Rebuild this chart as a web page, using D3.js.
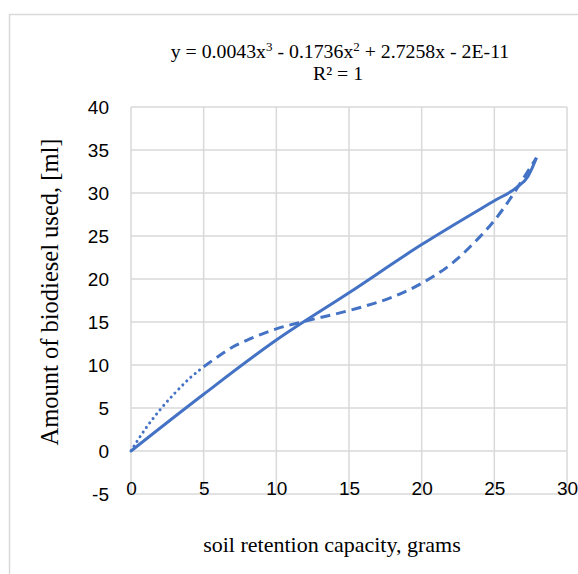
<!DOCTYPE html>
<html lang="en">
    <head>
        <meta charset="utf-8">
        <title>biodiesel vs soil retention</title>
        <script src="https://d3js.org/d3.v7.min.js"></script>
        <style type="text/css">
          body { margin: 0; background: #fff; }
          svg { width: 578px; height: 574px; display: block; }

          .tick_lbl {
            font-family: "Liberation Sans", sans-serif;
            font-size: 19px;
            fill: #000;
          }

          .serif {
            font-family: "Liberation Serif", "Times New Roman", serif;
            fill: #000;
          }
        </style>
    </head>
    <body>
        <svg></svg>
        <script type="text/javascript">

        // tick labels
        const xTicks = [0, 5, 10, 15, 20, 25, 30];
        const yTicks = [-5, 0, 5, 10, 15, 20, 25, 30, 35, 40];

        // solid series
        const solidX = [0, 5, 10, 15, 20, 25, 26.5, 27.3, 27.6, 27.9];
        const solidY = [0, 6.6, 12.9, 18.4, 24.0, 29.1, 30.6, 31.9, 32.9, 34.1];

        // fitted curve, dotted part
        const dotX = [0, 1, 2, 3, 4, 5];
        const dotY = [0, 2.6, 4.8, 6.7, 8.4, 9.8];

        // fitted curve, dashed part
        const dashX = [5, 6, 7, 8, 9, 10, 12, 14, 16, 18, 20, 22, 24, 25, 26, 27, 27.9];
        const dashY = [9.8, 11.0, 12.1, 12.9, 13.6, 14.2, 15.1, 15.9, 16.8, 17.9, 19.5, 21.7, 24.9, 26.8, 29.1, 31.7, 34.1];

        const blue = "#4472C4";
        const grid = "#d9d9d9";

        const svg = d3.select("svg");

        //chart border
        svg.append("rect")
           .attr("x", 9.5)
           .attr("y", 14.5)
           .attr("width", 620)
           .attr("height", 620)
           .attr("fill", "#fff")
           .attr("stroke", grid)
           .attr("stroke-width", 1.5);

        const x = d3.scaleLinear().domain([0, 30]).range([131, 567]);
        const y = d3.scaleLinear().domain([-5, 40]).range([494, 107]);

        //gridlines
        svg.append("g")
           .selectAll("line")
           .data(xTicks)
           .enter()
           .append("line")
           .attr("x1", d => x(d)).attr("x2", d => x(d))
           .attr("y1", y(-5)).attr("y2", y(40))
           .attr("stroke", grid)
           .attr("stroke-width", 1.5);

        svg.append("g")
           .selectAll("line")
           .data(yTicks)
           .enter()
           .append("line")
           .attr("x1", x(0)).attr("x2", x(30))
           .attr("y1", d => y(d)).attr("y2", d => y(d))
           .attr("stroke", grid)
           .attr("stroke-width", 1.5);

        //axes labels (plain hyphen for the minus sign)
        const yAxis = svg.append("g")
           .attr("transform", "translate(" + x(0) + ",0)")
           .call(d3.axisLeft(y).tickValues(yTicks).tickSize(0).tickPadding(22).tickFormat(d => String(d)));
        yAxis.select(".domain").remove();
        yAxis.selectAll("text").attr("class", "tick_lbl").attr("font-family", null).attr("font-size", null);

        const xAxis = svg.append("g")
           .attr("transform", "translate(0," + y(-5) + ")")
           .call(d3.axisBottom(x).tickValues(xTicks).tickSize(0).tickFormat(d => String(d)));
        xAxis.select(".domain").remove();
        xAxis.selectAll("text")
             .attr("class", "tick_lbl")
             .attr("font-family", null).attr("font-size", null)
             .attr("y", 1).attr("dy", 0);

        //series
        const line = d3.line()
                       .x(d => x(d[0]))
                       .y(d => y(d[1]))
                       .curve(d3.curveMonotoneX);

        svg.append("path")
           .attr("d", line(dotX.map((v, i) => [v, dotY[i]])))
           .attr("fill", "none")
           .attr("stroke", blue)
           .attr("stroke-width", 3)
           .attr("stroke-linecap", "round")
           .attr("stroke-dasharray", "0.1,5.5");

        svg.append("path")
           .attr("d", line(dashX.map((v, i) => [v, dashY[i]])))
           .attr("fill", "none")
           .attr("stroke", blue)
           .attr("stroke-width", 3)
           .attr("stroke-dasharray", "10,6");

        svg.append("path")
           .attr("d", line(solidX.map((v, i) => [v, solidY[i]])))
           .attr("fill", "none")
           .attr("stroke", blue)
           .attr("stroke-width", 3)
           .attr("stroke-linejoin", "round");

        //trendline equation
        const eq = svg.append("text")
           .attr("class", "serif")
           .attr("x", 340)
           .attr("y", 58)
           .attr("text-anchor", "middle")
           .style("font-size", "19.8px");
        eq.append("tspan").text("y = 0.0043x");
        eq.append("tspan").attr("dy", -7).style("font-size", "13px").text("3");
        eq.append("tspan").attr("dy", 7).text(" - 0.1736x");
        eq.append("tspan").attr("dy", -7).style("font-size", "13px").text("2");
        eq.append("tspan").attr("dy", 7).text(" + 2.7258x - 2E-11");

        svg.append("text")
           .attr("class", "serif")
           .attr("x", 338)
           .attr("y", 80)
           .attr("text-anchor", "middle")
           .style("font-size", "19.8px")
           .text("R² = 1");

        //axis titles
        svg.append("text")
           .attr("class", "serif")
           .attr("transform", "translate(58,292) rotate(-90)")
           .attr("text-anchor", "middle")
           .style("font-size", "24.5px")
           .text("Amount of biodiesel used, [ml]");

        svg.append("text")
           .attr("class", "serif")
           .attr("x", 332)
           .attr("y", 552)
           .attr("text-anchor", "middle")
           .style("font-size", "22px")
           .text("soil retention capacity, grams");

        </script>
    </body>
</html>
